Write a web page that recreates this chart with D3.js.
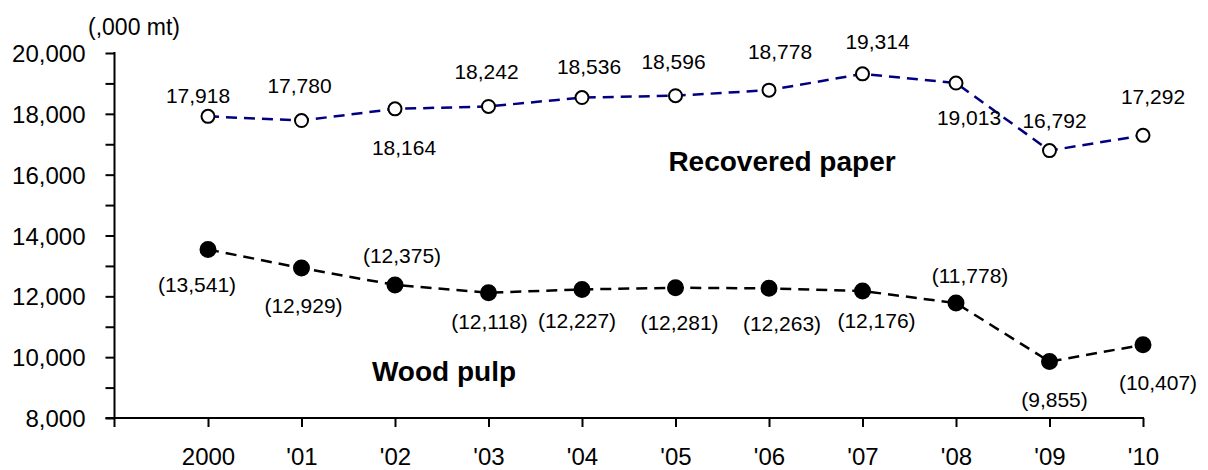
<!DOCTYPE html>
<html>
<head>
<meta charset="utf-8">
<script src="https://cdn.jsdelivr.net/npm/d3@7"></script>
<style>
  body { margin: 0; background: #fff; }
  svg text { font-family: "Liberation Sans", Arial, sans-serif; fill: #000; }
</style>
</head>
<body>
<svg id="chart" width="1208" height="470"></svg>
<script>
// data
let years = ['2000', "'01", "'02", "'03", "'04", "'05", "'06", "'07", "'08", "'09", "'10"]
let recovered = [17918, 17780, 18164, 18242, 18536, 18596, 18778, 19314, 19013, 16792, 17292]
let woodPulp = [13541, 12929, 12375, 12118, 12227, 12281, 12263, 12176, 11778, 9855, 10407]
let yTicks = [8000, 9000, 10000, 11000, 12000, 13000, 14000, 15000, 16000, 17000, 18000, 19000, 20000]

// where each value label sits relative to its marker [dx, dy to baseline]
let recoveredLabelPos = [[-10, -13], [-2, -28], [9, 46], [-2, -27], [7, -24], [-2, -27], [11, -31], [15, -25], [13, 42], [5, -23], [10, -31]]
let woodLabelPos = [[-11, 43], [2, 45], [7, -22], [1, 36], [-5, 39], [4, 42], [13, 43], [14, 37], [14, -20], [5, 45], [15, 45]]

let svg = d3.select('#chart')
let fmt = d3.format(',')

let x = d3.scalePoint()
    .domain(years)
    .range([208, 1143])

let y = d3.scaleLinear()
    .domain([8000, 20000])
    .range([418, 53])

let x0 = x(years[0]) - x.step()

// y axis
let yAxis = d3.axisLeft(y)
    .tickValues(yTicks)
    .tickSize(9)
    .tickSizeOuter(0)
    .tickPadding(20)
    .tickFormat((d) => {
        return d % 2000 == 0 ? fmt(d) : ''
    })

let gy = svg.append('g')
    .attr('transform', 'translate(' + x0 + ',0)')
    .call(yAxis)
gy.select('.domain').remove()
gy.selectAll('.tick line').attr('stroke', '#000').attr('stroke-width', 2)
gy.selectAll('.tick text')
    .style('font-size', '24px')
    .attr('dy', '0.36em')

// x axis
let xAxis = d3.axisBottom(x)
    .tickSize(9)
    .tickSizeOuter(0)
    .tickPadding(21)

let gx = svg.append('g')
    .attr('transform', 'translate(0,' + y(8000) + ')')
    .call(xAxis)
gx.select('.domain').remove()
gx.selectAll('.tick line').attr('stroke', '#000').attr('stroke-width', 2)
gx.selectAll('.tick text').style('font-size', '24px')

// axis lines
svg.append('line')
    .attr('x1', x0).attr('x2', x0)
    .attr('y1', y(20000) - 1).attr('y2', y(8000) + 9)
    .attr('stroke', '#000').attr('stroke-width', 2)
svg.append('line')
    .attr('x1', x0 - 9).attr('x2', x(years[years.length - 1]) + 1)
    .attr('y1', y(8000)).attr('y2', y(8000))
    .attr('stroke', '#000').attr('stroke-width', 2)

svg.append('text')
    .attr('x', 88)
    .attr('y', 35)
    .style('font-size', '23px')
    .text('(,000 mt)')

let line = d3.line()
    .x((d, i) => x(years[i]))
    .y((d) => y(d))

let drawSeries = function(values, color, filled, labelPos, wrap) {
    svg.append('path')
        .datum(values)
        .attr('d', line)
        .attr('fill', 'none')
        .attr('stroke', color)
        .attr('stroke-width', 2.5)
        .attr('stroke-dasharray', '11,7')

    svg.selectAll(null)
        .data(values)
        .enter()
        .append('circle')
        .attr('cx', (d, i) => x(years[i]))
        .attr('cy', (d) => y(d))
        .attr('r', filled ? 7.5 : 6.5)
        .attr('fill', filled ? '#000' : '#fff')
        .attr('stroke', '#000')
        .attr('stroke-width', 2)

    svg.selectAll(null)
        .data(values)
        .enter()
        .append('text')
        .attr('x', (d, i) => x(years[i]) + labelPos[i][0])
        .attr('y', (d, i) => y(d) + labelPos[i][1])
        .attr('text-anchor', 'middle')
        .style('font-size', '21px')
        .text((d) => wrap ? '(' + fmt(d) + ')' : fmt(d))
}

drawSeries(recovered, '#000080', false, recoveredLabelPos, false)
drawSeries(woodPulp, '#000', true, woodLabelPos, true)

svg.append('text')
    .attr('x', 782)
    .attr('y', 171)
    .attr('text-anchor', 'middle')
    .style('font-size', '28px')
    .style('font-weight', 'bold')
    .text('Recovered paper')

svg.append('text')
    .attr('x', 444)
    .attr('y', 381)
    .attr('text-anchor', 'middle')
    .style('font-size', '28px')
    .style('font-weight', 'bold')
    .text('Wood pulp')
</script>
</body>
</html>
